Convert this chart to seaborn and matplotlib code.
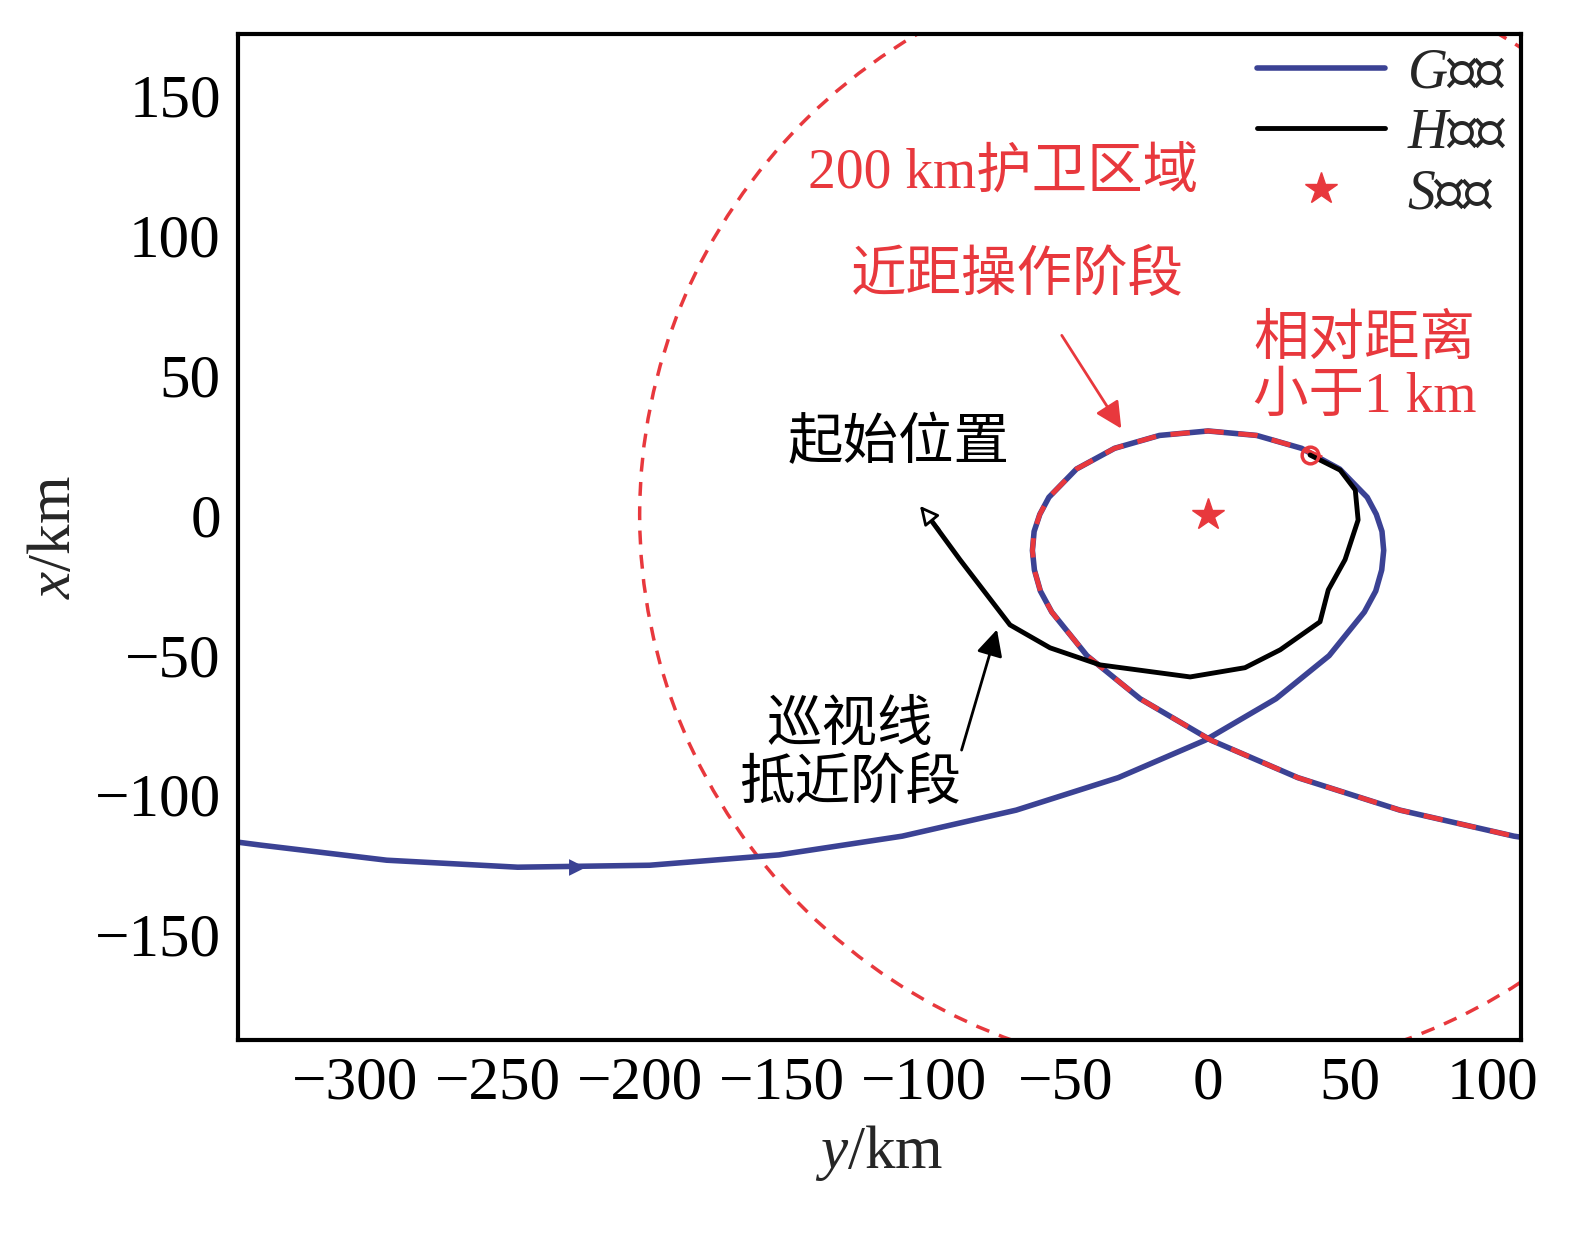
import matplotlib
matplotlib.use('Agg')
import matplotlib.pyplot as plt
import matplotlib.patches as mpatches
import seaborn as sns

sns.set_theme(style="white")
plt.rcParams['font.family'] = ['Liberation Serif', 'Noto Sans CJK SC']
plt.rcParams['mathtext.fontset'] = 'custom'
plt.rcParams['mathtext.it'] = 'Liberation Serif:italic'
plt.rcParams['mathtext.rm'] = 'Noto Sans CJK SC'

BLUE = '#3b4294'
RED = '#e8383d'

# G trajectory (horizontal: y/km, vertical: x/km)
g_y = [-341.0, -333.4, -289.0, -242.9, -196.5, -151.0, -107.6, -67.5, -31.6, -1.0, 23.9, 42.6, 55.0,
       59.0, 61.1, 61.8, 61.2, 59.2, 56.0, 46.3, 32.9, 17.1, 0.0, -17.1, -32.9, -46.3, -56.0,
       -59.2, -61.2, -61.8, -61.1, -59.0, -55.0, -42.6, -23.9, 1.0, 31.6, 67.5, 107.6, 151.0]
g_x = [-117.0, -118.0, -123.4, -125.9, -125.2, -121.5, -114.8, -105.5, -93.9, -80.5, -65.7, -50.3, -34.7,
       -27.2, -19.7, -12.7, -5.9, 0.2, 6.3, 16.4, 23.8, 28.4, 30.0, 28.4, 23.8, 16.4, 6.3,
       0.2, -5.9, -12.7, -19.7, -27.2, -34.7, -50.3, -65.7, -80.5, -93.9, -105.5, -114.8, -121.5]
# part of G inside the close-range phase (red dashed overlay)
r_y = [40.0] + g_y[20:]
r_x = [20.4] + g_x[20:]

# H trajectory
h_y = [-99.6, -87.3, -69.7, -55.6, -38.0, -6.3, 13.0, 25.4, 39.4, 42.3, 48.2, 52.8, 51.8, 46.5, 35.9]
h_x = [1.1, -16.0, -39.3, -47.5, -53.6, -57.9, -54.6, -48.2, -38.2, -26.8, -16.0, -1.8, 8.9, 16.0, 21.4]

guard_radius = 200
s_pos = (0, 0)
close_pt = (35.9, 21.4)

fig = plt.figure(figsize=(15.94, 12.45), dpi=100)
ax = fig.add_axes([0.149, 0.165, 0.805, 0.808])

ax.add_patch(mpatches.Circle(s_pos, guard_radius, fill=False, ec=RED, ls=(0, (4, 3)), lw=2.5))
ax.plot(g_y, g_x, color=BLUE, lw=4, label='$G$轨迹', solid_joinstyle='round')
ax.plot(r_y, r_x, color=RED, lw=3.5, ls=(0, (4, 3)))
ax.plot(h_y, h_x, color='black', lw=3.5, label='$H$轨迹', solid_joinstyle='round')
ax.plot(*s_pos, marker='*', color=RED, ms=24, ls='none', label='$S$位置')
ax.plot(*close_pt, marker='o', mfc='none', mec=RED, mew=2.5, ms=12)

# direction arrows
ax.annotate('', xy=(-218, -126.0), xytext=(-236, -126.0),
            arrowprops=dict(arrowstyle='-|>', color=BLUE, lw=0, mutation_scale=30))
ax.annotate('', xy=(-102, 4.0), xytext=(-94, -6.0),
            arrowprops=dict(arrowstyle='-|>', fc='white', ec='black', lw=2, mutation_scale=28))

fs = 40
ax.text(-72, 122, '200 km护卫区域', color=RED, fontsize=fs, ha='center', va='center')
ax.text(-67, 85, '近距操作阶段', color=RED, fontsize=fs, ha='center', va='center')
ax.annotate('', xy=(-30, 30), xytext=(-52, 65),
            arrowprops=dict(arrowstyle='-|>', color=RED, lw=2, mutation_scale=40))
ax.text(55, 52, '相对距离\n小于1 km', color=RED, fontsize=fs, ha='center', va='center',
        linespacing=1.15)
ax.text(-109, 25, '起始位置', color='black', fontsize=fs, ha='center', va='center')
ax.text(-126, -86, '巡视线\n抵近阶段', color='black', fontsize=fs, ha='center', va='center',
        linespacing=1.15)
ax.annotate('', xy=(-74, -40), xytext=(-87, -85),
            arrowprops=dict(arrowstyle='-|>', color='black', lw=2, mutation_scale=40))

ax.set_xlim(-341.5, 110)
ax.set_ylim(-187.5, 172)
ax.set_xticks([-300, -250, -200, -150, -100, -50, 0, 50, 100])
ax.set_yticks([-150, -100, -50, 0, 50, 100, 150])
ax.set_xticklabels(['\u2212300', '\u2212250', '\u2212200', '\u2212150', '\u2212100', '\u221250', '0', '50', '100'])
ax.set_yticklabels(['\u2212150', '\u2212100', '\u221250', '0', '50', '100', '150'])
ax.tick_params(direction='in', length=22, width=3, labelsize=44, pad=12, colors='black')
for sp in ax.spines.values():
    sp.set_linewidth(3)
    sp.set_color('black')
ax.set_xlabel('$y$/km', fontsize=44, labelpad=8)
ax.set_ylabel('$x$/km', fontsize=44, labelpad=8)

leg = ax.legend(loc='upper right', frameon=False, fontsize=40, handlelength=2.3,
                borderaxespad=0.05, labelspacing=0.15, handletextpad=0.4, borderpad=0.2)

fig.savefig('out.png', dpi=100)
